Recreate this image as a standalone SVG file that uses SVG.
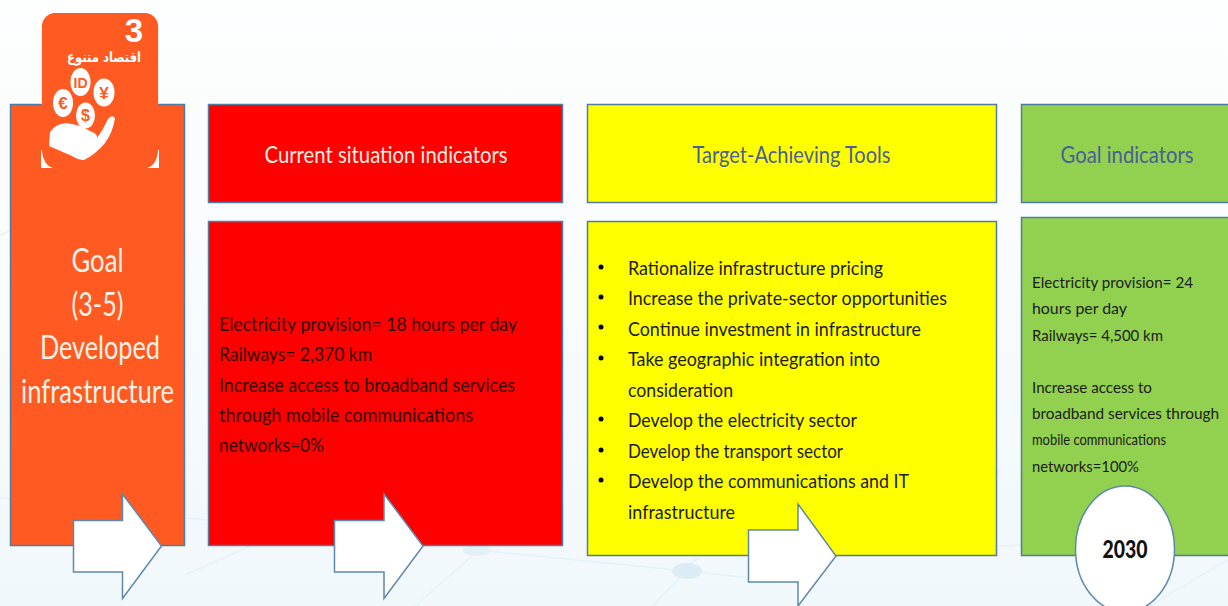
<svg xmlns="http://www.w3.org/2000/svg" width="1228" height="606" viewBox="0 0 1228 606">
<defs>
<linearGradient id="bg" x1="0" y1="0" x2="0" y2="1"><stop offset="0" stop-color="#fdfefe"/><stop offset="0.35" stop-color="#fafcfd"/><stop offset="1" stop-color="#f1f8fb"/></linearGradient>
</defs>
<style>
text{font-family:"Lato","Open Sans","Liberation Sans",sans-serif}
.box{stroke:#4f7ba5;stroke-width:1.5}
.arrow{fill:#fff;stroke:#5f88ad;stroke-width:1.5}
.net{fill:none;stroke:#e4f2f9;stroke-width:1.5}
.hd{font-size:24px;text-anchor:middle}
.body{font-size:20px;fill:#1c1c1c}
.big{font-size:32px;fill:#f7f1e6;text-anchor:middle}
.coin{fill:#fff}
.sym{fill:#ff5a22;font-weight:700;text-anchor:middle;font-family:"Liberation Sans",sans-serif}
.bul{fill:#000}
</style>
<rect width="1228" height="606" fill="url(#bg)"/>
<g id="background-network">
<path class="net" d="M0 235L40 218M0 498L10 499M185 518L208 520M185 575L250 546M477 550L687 571L750 578M472 556L415 606M680 578L652 606M687 565L700 557M836 500L1000 470M1000 470L960 530M836 556L1021 545M1150 606L1228 560"/>
<ellipse cx="477" cy="550" rx="14" ry="6" fill="#e3f0f6"/>
<ellipse cx="687" cy="571" rx="15" ry="8" fill="#dcecf4"/>
</g>
<g id="goal">
<rect class="box" x="10.500" y="104.500" width="174" height="441" fill="#ff5a22"/>
<text class="big"><tspan x="97.500" y="272" textLength="52" lengthAdjust="spacingAndGlyphs">Goal</tspan></text>
<text class="big"><tspan x="97.500" y="316" textLength="52" lengthAdjust="spacingAndGlyphs">(3-5)</tspan></text>
<text class="big"><tspan x="100" y="359" textLength="120" lengthAdjust="spacingAndGlyphs">Developed</tspan></text>
<text class="big"><tspan x="97.500" y="403" textLength="153" lengthAdjust="spacingAndGlyphs">infrastructure</tspan></text>
</g>
<g id="goal-icon">
<rect x="41.500" y="13" width="117" height="155" rx="13" fill="#ff5a22"/>
<path fill="#fff" d="M41 150V168H53Q44 166 42 152V150ZM159 150V168H147Q156 166 158 152V150Z"/>
<path fill="#fff" d="M41 13H53Q44 15 42 25V104H41ZM159 13H147Q156 15 158 25V104H159Z" opacity="0.75"/>
<text x="134" y="42" font-size="33" font-weight="700" fill="#fff" text-anchor="middle" style="font-family:'Liberation Sans',sans-serif">3</text>
<text x="104" y="62" font-size="14" font-weight="700" fill="#fff" text-anchor="middle" style="font-family:'DejaVu Sans',sans-serif" textLength="74" lengthAdjust="spacingAndGlyphs">اقتصاد متنوع</text>
<ellipse class="coin" cx="63" cy="103" rx="10" ry="14"/>
<ellipse class="coin" cx="80.500" cy="82" rx="10" ry="14"/>
<ellipse class="coin" cx="104" cy="92.500" rx="10.500" ry="14"/>
<ellipse class="coin" cx="85.500" cy="115.500" rx="9.500" ry="13"/>
<text class="sym" x="63" y="109" font-size="17">€</text>
<text class="sym" x="80.500" y="88" font-size="14">ID</text>
<text class="sym" x="104" y="99" font-size="17">¥</text>
<text class="sym" x="85.500" y="121" font-size="16">$</text>
<path fill="#fff" d="M50 132Q55 124 66 123Q78 124 90 131Q98 134 97 138L84 141L97 138Q103 130 108 119Q112 114 115 118Q113 132 105 143Q96 154 84 160Q78 160 72 156L49 146Z"/>
</g>
<g id="current-header">
<rect class="box" x="208.500" y="104.500" width="354" height="98" fill="#ff0000"/>
<text class="hd" x="386" y="163" fill="#f8f0e2" textLength="243" lengthAdjust="spacingAndGlyphs">Current situation indicators</text>
</g>
<g id="current-body">
<rect class="box" x="208.500" y="221.500" width="354" height="324" fill="#ff0000"/>
<g class="body" style="fill:#300a04">
<text x="219" y="331" textLength="298" lengthAdjust="spacingAndGlyphs">Electricity provision= 18 hours per day</text>
<text x="219" y="361" textLength="153" lengthAdjust="spacingAndGlyphs">Railways= 2,370 km</text>
<text x="219" y="392" textLength="296" lengthAdjust="spacingAndGlyphs">Increase access to broadband services</text>
<text x="219" y="422" textLength="254" lengthAdjust="spacingAndGlyphs">through mobile communications</text>
<text x="219" y="452" textLength="105" lengthAdjust="spacingAndGlyphs">networks=0%</text>
</g>
</g>
<g id="tools-header">
<rect class="box" x="587.500" y="104.500" width="409" height="98" fill="#ffff00"/>
<text class="hd" x="791.500" y="163" fill="#4a5f96" textLength="198" lengthAdjust="spacingAndGlyphs">Target-Achieving Tools</text>
</g>
<g id="tools-body">
<rect class="box" x="587.500" y="221.500" width="409" height="334" fill="#ffff00"/>
<g class="body">
<circle class="bul" cx="601" cy="267" r="2.500"/><text x="628" y="275" textLength="255" lengthAdjust="spacingAndGlyphs">Rationalize infrastructure pricing</text>
<circle class="bul" cx="601" cy="297" r="2.500"/><text x="628" y="305" textLength="319" lengthAdjust="spacingAndGlyphs">Increase the private-sector opportunities</text>
<circle class="bul" cx="601" cy="327" r="2.500"/><text x="628" y="336" textLength="293" lengthAdjust="spacingAndGlyphs">Continue investment in infrastructure</text>
<circle class="bul" cx="601" cy="358" r="2.500"/><text x="628" y="366" textLength="252" lengthAdjust="spacingAndGlyphs">Take geographic integration into</text>
<text x="628" y="397" textLength="105" lengthAdjust="spacingAndGlyphs">consideration</text>
<circle class="bul" cx="601" cy="419" r="2.500"/><text x="628" y="427" textLength="229" lengthAdjust="spacingAndGlyphs">Develop the electricity sector</text>
<circle class="bul" cx="601" cy="450" r="2.500"/><text x="628" y="458" textLength="215" lengthAdjust="spacingAndGlyphs">Develop the transport sector</text>
<circle class="bul" cx="601" cy="480" r="2.500"/><text x="628" y="488" textLength="281" lengthAdjust="spacingAndGlyphs">Develop the communications and IT</text>
<text x="628" y="519" textLength="107" lengthAdjust="spacingAndGlyphs">infrastructure</text>
</g>
</g>
<g id="goal-header">
<rect class="box" x="1021.500" y="104.500" width="212" height="98" fill="#92d050"/>
<text class="hd" x="1127" y="163" fill="#4a5f96" textLength="133" lengthAdjust="spacingAndGlyphs">Goal indicators</text>
</g>
<g id="goal-body">
<rect class="box" x="1021.500" y="217.500" width="212" height="338" fill="#92d050"/>
<g style="font-size:16px;fill:#1c1c1c">
<text x="1032" y="288" textLength="161" lengthAdjust="spacingAndGlyphs">Electricity provision= 24</text>
<text x="1032" y="314" textLength="95" lengthAdjust="spacingAndGlyphs">hours per day</text>
<text x="1032" y="341" textLength="131" lengthAdjust="spacingAndGlyphs">Railways= 4,500 km</text>
<text x="1032" y="393" textLength="120" lengthAdjust="spacingAndGlyphs">Increase access to</text>
<text x="1032" y="419" textLength="187" lengthAdjust="spacingAndGlyphs">broadband services through</text>
<text x="1032" y="445" textLength="134" lengthAdjust="spacingAndGlyphs">mobile communications</text>
<text x="1032" y="472" textLength="107" lengthAdjust="spacingAndGlyphs">networks=100%</text>
</g>
</g>
<g id="connectors">
<path class="arrow" d="M73.500 520.500H122.500V494L161.500 546L122.500 598.500V572H73.500Z"/>
<path class="arrow" d="M334.500 520.500H384V494L423 546L384 598.500V572H334.500Z"/>
<path class="arrow" d="M748.500 530H798V504L836 556L798 606V582H748.500Z"/>
</g>
<g id="year-2030">
<ellipse cx="1125" cy="549" rx="49.500" ry="63" fill="#fff" stroke="#5f88ad" stroke-width="1.500"/>
<text x="1125" y="558" font-size="25" font-weight="900" fill="#111" text-anchor="middle" textLength="45" lengthAdjust="spacingAndGlyphs">2030</text>
</g>
</svg>
